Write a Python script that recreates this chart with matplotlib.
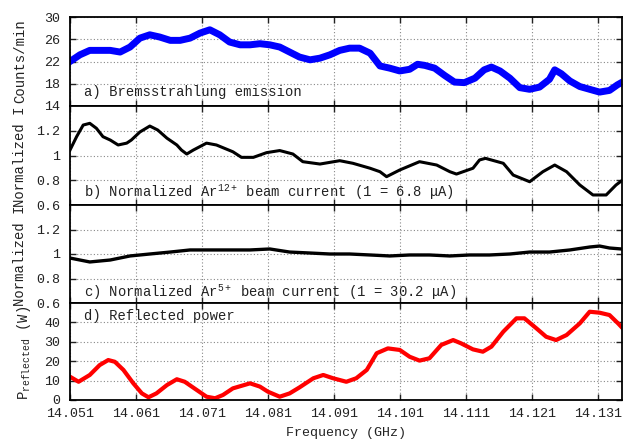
import matplotlib
matplotlib.use("Agg")
import matplotlib.pyplot as plt

# values
freq_a = [14.0510, 14.0525, 14.0540, 14.0555, 14.0571, 14.0586, 14.0601, 14.0616, 14.0631, 14.0646,
          14.0662, 14.0677, 14.0692, 14.0707, 14.0722, 14.0737, 14.0752, 14.0768, 14.0783, 14.0798,
          14.0813, 14.0828, 14.0843, 14.0858, 14.0874, 14.0889, 14.0904, 14.0919, 14.0934, 14.0949,
          14.0965, 14.0980, 14.0995, 14.1010, 14.1025, 14.1037, 14.1048, 14.1063, 14.1078, 14.1093,
          14.1108, 14.1124, 14.1138, 14.1149, 14.1162, 14.1177, 14.1192, 14.1207, 14.1222, 14.1237,
          14.1245, 14.1255, 14.1268, 14.1283, 14.1298, 14.1313, 14.1328, 14.1340, 14.1346]
counts_a = [22.0, 23.2, 24.0, 24.0, 24.0, 23.7, 24.6, 26.2, 26.8, 26.4,
            25.8, 25.8, 26.2, 27.1, 27.7, 26.8, 25.5, 25.0, 25.0, 25.2,
            25.0, 24.6, 23.7, 22.8, 22.3, 22.6, 23.2, 24.0, 24.4, 24.4,
            23.5, 21.2, 20.8, 20.3, 20.6, 21.5, 21.3, 20.8, 19.5, 18.3,
            18.2, 19.0, 20.5, 21.0, 20.3, 19.0, 17.3, 17.0, 17.4, 18.8,
            20.5, 19.8, 18.5, 17.5, 17.0, 16.5, 16.8, 17.8, 18.2]

freq_b = [14.0510, 14.0520, 14.0530, 14.0540, 14.0550, 14.0560, 14.0571, 14.0583, 14.0596, 14.0603,
          14.0616, 14.0631, 14.0643, 14.0657, 14.0672, 14.0679, 14.0687, 14.0697, 14.0717, 14.0732,
          14.0757, 14.0770, 14.0788, 14.0808, 14.0828, 14.0848, 14.0863, 14.0889, 14.0919, 14.0939,
          14.0965, 14.0980, 14.0990, 14.1010, 14.1040, 14.1066, 14.1086, 14.1096, 14.1121, 14.1131,
          14.1140, 14.1167, 14.1182, 14.1207, 14.1227, 14.1245, 14.1263, 14.1283, 14.1303, 14.1323,
          14.1338, 14.1348]
ar12 = [1.044, 1.152, 1.246, 1.26, 1.22, 1.152, 1.125, 1.085, 1.10, 1.125,
        1.19, 1.238, 1.206, 1.14, 1.085, 1.044, 1.012, 1.044, 1.10, 1.085,
        1.03, 0.985, 0.985, 1.023, 1.04, 1.012, 0.95, 0.931, 0.958, 0.937,
        0.897, 0.869, 0.829, 0.883, 0.95, 0.923, 0.869, 0.85, 0.897, 0.964,
        0.977, 0.937, 0.842, 0.788, 0.869, 0.923, 0.869, 0.762, 0.681, 0.681,
        0.762, 0.802]

freq_c = [14.0510, 14.0540, 14.0571, 14.0601, 14.0631, 14.0662, 14.0692, 14.0722, 14.0752, 14.0783,
          14.0813, 14.0843, 14.0874, 14.0904, 14.0934, 14.0965, 14.0995, 14.1025, 14.1055, 14.1086,
          14.1116, 14.1146, 14.1177, 14.1207, 14.1237, 14.1268, 14.1298, 14.1313, 14.1328, 14.1346]
ar5 = [0.967, 0.935, 0.951, 0.984, 1.0, 1.016, 1.033, 1.033, 1.033, 1.033,
       1.041, 1.016, 1.008, 1.0, 1.0, 0.992, 0.984, 0.992, 0.992, 0.984,
       0.992, 0.992, 1.0, 1.016, 1.016, 1.033, 1.057, 1.065, 1.049, 1.041]

freq_d = [14.0510, 14.0523, 14.0540, 14.0555, 14.0568, 14.0578, 14.0591, 14.0606, 14.0619, 14.0629,
          14.0641, 14.0657, 14.0672, 14.0684, 14.0702, 14.0717, 14.0730, 14.0742, 14.0757, 14.0783,
          14.0798, 14.0810, 14.0828, 14.0843, 14.0858, 14.0879, 14.0894, 14.0909, 14.0929, 14.0944,
          14.0960, 14.0975, 14.0992, 14.1010, 14.1025, 14.1040, 14.1055, 14.1073, 14.1091, 14.1103,
          14.1121, 14.1136, 14.1149, 14.1167, 14.1187, 14.1199, 14.1217, 14.1232, 14.1247, 14.1263,
          14.1283, 14.1298, 14.1313, 14.1328, 14.1341, 14.1348]
p_refl = [12.0, 9.4, 12.9, 18.0, 20.6, 19.7, 15.5, 8.6, 3.4, 1.4,
          3.4, 7.7, 10.7, 9.4, 5.2, 1.7, 0.9, 2.6, 6.0, 8.6,
          6.9, 4.3, 1.7, 3.4, 6.5, 11.2, 12.9, 11.2, 9.4, 11.2,
          15.5, 24.1, 26.6, 25.8, 22.3, 20.3, 21.5, 28.4, 30.9, 29.2,
          26.1, 24.9, 27.5, 35.2, 42.1, 42.1, 37.0, 32.6, 30.9, 33.5,
          39.5, 45.5, 45.0, 43.8, 39.5, 37.0]

freq_ticks = [14.051, 14.061, 14.071, 14.081, 14.091, 14.101, 14.111, 14.121, 14.131]
ticks_a = [14, 18, 22, 26, 30]
ticks_bc = [0.6, 0.8, 1.0, 1.2]
labels_bc = ["0.6", "0.8", "1", "1.2"]
ticks_d = [0, 10, 20, 30, 40]

plt.rcParams['font.family'] = ['Liberation Mono', 'DejaVu Sans Mono']
plt.rcParams['mathtext.fontset'] = 'custom'
plt.rcParams['mathtext.rm'] = 'Liberation Mono'
plt.rcParams['mathtext.it'] = 'Liberation Mono'

fig, axes = plt.subplots(4, 1, sharex=True, figsize=(6.28, 4.43), dpi=100,
                         gridspec_kw=dict(height_ratios=[89, 99, 98, 97], hspace=0))
fig.subplots_adjust(left=70 / 628, right=622 / 628, top=1 - 17 / 443, bottom=1 - 400 / 443)
ax_a, ax_b, ax_c, ax_d = axes

ax_a.plot(freq_a, counts_a, color='#0000ff', lw=5.0, solid_joinstyle='round')
ax_b.plot(freq_b, ar12, color='black', lw=2.2, solid_joinstyle='round')
ax_c.plot(freq_c, ar5, color='black', lw=2.4, solid_joinstyle='round')
ax_d.plot(freq_d, p_refl, color='#ff0000', lw=3.0, solid_joinstyle='round')

ax_a.set_ylim(14, 30)
ax_a.set_yticks(ticks_a)
ax_b.set_ylim(0.6, 1.4)
ax_b.set_yticks(ticks_bc)
ax_b.set_yticklabels(labels_bc)
ax_c.set_ylim(0.6, 1.4)
ax_c.set_yticks(ticks_bc)
ax_c.set_yticklabels(labels_bc)
ax_d.set_ylim(0, 50)
ax_d.set_yticks(ticks_d)

for ax in axes:
    ax.set_xlim(14.051, 14.1347)
    ax.set_xticks(freq_ticks)
    ax.set_axisbelow(True)
    ax.grid(True, color='#888888', linestyle=(0, (1, 2)), lw=0.8)
    ax.tick_params(direction='in', top=True, right=True, length=4, width=1,
                   labelsize=9.6, colors='#222222')
    ax.tick_params(axis='y', pad=7)
    ax.tick_params(axis='x', pad=6)
    for s in ax.spines.values():
        s.set_linewidth(1.3)

ax_d.set_xticklabels(["%.3f" % t for t in freq_ticks])
ax_d.set_xlabel("Frequency (GHz)", fontsize=9.6, color='#222222', labelpad=5)

ax_a.text(0.025, 0.157, "a) Bremsstrahlung emission", transform=ax_a.transAxes,
          fontsize=10, color='#222222', va='center')
ax_b.text(0.025, 0.134, r"b) Normalized Ar$^{\mathrm{12+}}$ beam current (1 = 6.8 μA)",
          transform=ax_b.transAxes, fontsize=10, color='#222222', va='center')
ax_c.text(0.025, 0.115, r"c) Normalized Ar$^{\mathrm{5+}}$ beam current (1 = 30.2 μA)",
          transform=ax_c.transAxes, fontsize=10, color='#222222', va='center')
ax_d.text(0.025, 0.869, "d) Reflected power", transform=ax_d.transAxes,
          fontsize=10, color='#222222', va='center')

# y labels, placed like the overlapping gnuplot labels
fig.text(20 / 628, 1 - 61.5 / 443, "Counts/min", rotation=90, ha='center', va='center',
         fontsize=10, color='#222222')
fig.text(20 / 628, 1 - 157 / 443, "Normalized I", rotation=90, ha='center', va='center',
         fontsize=10, color='#222222')
fig.text(20 / 628, 1 - 256 / 443, "Normalized I", rotation=90, ha='center', va='center',
         fontsize=10, color='#222222')
fig.text(24 / 628, 1 - 353 / 443, r"$\mathrm{P}_{\mathrm{reflected}}$ (W)", rotation=90,
         ha='center', va='center', fontsize=10, color='#222222')

fig.savefig("out.png", dpi=100)
